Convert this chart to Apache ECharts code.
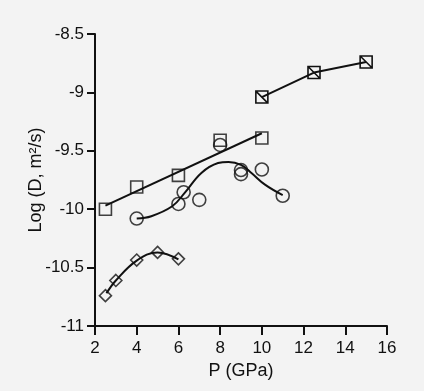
<!DOCTYPE html>
<html><head><meta charset="utf-8">
<script src="https://cdn.jsdelivr.net/npm/echarts@6/dist/echarts.min.js"></script>
<style>html,body{margin:0;padding:0;background:#f3f3f3;}#c{width:424px;height:391px;}</style>
</head><body><div id="c"></div>
<script>
// Data
const xTicks = [2, 4, 6, 8, 10, 12, 14, 16];
const yTicks = [-11, -10.5, -10, -9.5, -9, -8.5];
const squaresA = [[2.5, -10.0], [4, -9.81], [6, -9.71], [8, -9.41], [10, -9.39]];
const fitA = [[2.5, -9.97], [10, -9.35]];
const squaresB = [[10, -9.04], [12.5, -8.83], [15, -8.74]];
const circles = [[4, -10.08], [6, -9.955], [6.25, -9.855], [7, -9.92], [8, -9.45], [9, -9.665], [9, -9.70], [10, -9.66], [11, -9.885]];
const circleCurve = [[4, -10.08], [4.7, -10.06], [5.7, -9.975], [6.3, -9.86], [7.1, -9.69], [7.9, -9.605], [8.4, -9.595], [9.0, -9.62], [9.5, -9.69], [10.15, -9.79], [11, -9.88]];
const diamonds = [[2.5, -10.74], [3, -10.61], [4, -10.435], [5, -10.37], [6, -10.425]];
const diamondCurve = [[2.55, -10.72], [3, -10.61], [4, -10.44], [5, -10.37], [6, -10.43]];

const font = 'Liberation Sans, Arial, sans-serif';
const chart = echarts.init(document.getElementById('c'));
const mk = { color: 'transparent', borderColor: '#111', borderWidth: 1.6 };
const ln = { color: '#111', width: 2 };
chart.setOption({
  backgroundColor: '#f3f3f3',
  animation: false,
  grid: { left: 95, right: 37, top: 34, bottom: 65 },
  xAxis: {
    type: 'value', min: 2, max: 16, interval: 2,
    name: 'P (GPa)', nameLocation: 'middle', nameGap: 36, nameMoveOverlap: false,
    nameTextStyle: { fontFamily: font, fontSize: 18, color: '#111' },
    axisLine: { lineStyle: { color: '#111', width: 2 } },
    axisTick: { length: 9, lineStyle: { color: '#111', width: 2 } },
    axisLabel: { fontFamily: font, fontSize: 17, color: '#111', margin: 14,
      formatter: v => xTicks.includes(v) ? String(v) : '' },
    splitLine: { show: false }
  },
  yAxis: {
    type: 'value', min: -11, max: -8.5, interval: 0.5,
    name: 'Log (D, m²/s)', nameLocation: 'middle', nameGap: 50, nameMoveOverlap: false,
    nameTextStyle: { fontFamily: font, fontSize: 18, color: '#111' },
    axisLine: { lineStyle: { color: '#111', width: 2 } },
    axisTick: { length: 8, lineStyle: { color: '#111', width: 2 } },
    axisLabel: { fontFamily: font, fontSize: 17, color: '#111', margin: 11,
      formatter: v => yTicks.includes(v) ? String(v) : '' },
    splitLine: { show: false }
  },
  series: [
    { type: 'line', data: fitA, symbol: 'none', lineStyle: ln, z: 2 },
    { type: 'scatter', data: squaresA, symbol: 'rect', symbolSize: 12, itemStyle: mk, z: 3 },
    { type: 'line', data: squaresB, symbol: 'path://M0,0 L10,0 L10,10 L0,10 Z M0,0 L10,10', symbolSize: 12,
      showSymbol: true, itemStyle: mk, lineStyle: ln, z: 3 },
    { type: 'line', data: circleCurve, smooth: 0.4, symbol: 'none', lineStyle: ln, z: 2 },
    { type: 'scatter', data: circles, symbol: 'circle', symbolSize: 13, itemStyle: mk, z: 3 },
    { type: 'line', data: diamondCurve, smooth: 0.4, symbol: 'none', lineStyle: ln, z: 2 },
    { type: 'scatter', data: diamonds, symbol: 'diamond', symbolSize: 12, itemStyle: mk, z: 3 }
  ]
});
</script></body></html>
